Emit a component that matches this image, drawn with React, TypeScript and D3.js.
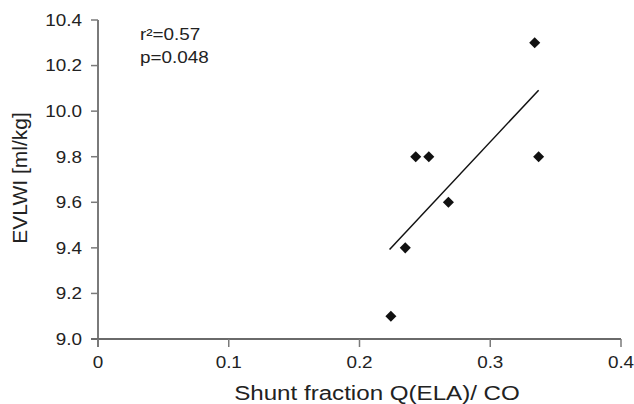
import React from "react";
import * as d3 from "d3";

const xValues = [0.334, 0.243, 0.253, 0.337, 0.268, 0.235, 0.224];
const yValues = [10.3, 9.8, 9.8, 9.8, 9.6, 9.4, 9.1];
const trendX = [0.223, 0.337];
const trendY = [9.393, 10.092];
const xTicks = [0, 0.1, 0.2, 0.3, 0.4];
const xTickLabels = ["0", "0.1", "0.2", "0.3", "0.4"];
const yTicks = [9.0, 9.2, 9.4, 9.6, 9.8, 10.0, 10.2, 10.4];
const yTickLabels = ["9.0", "9.2", "9.4", "9.6", "9.8", "10.0", "10.2", "10.4"];
const annotations = ["r²=0.57", "p=0.048"];
const xTitle = "Shunt fraction Q(ELA)/ CO";
const yTitle = "EVLWI [ml/kg]";

const W = 634;
const H = 404;
const FONT = "'Liberation Sans', Arial, Helvetica, sans-serif";

export default function App() {
  const x = d3.scaleLinear().domain([0, 0.4]).range([98, 621]);
  const y = d3.scaleLinear().domain([9.0, 10.4]).range([339, 20]);
  const line = d3
    .line<number>()
    .x((d) => x(d))
    .y((_, i) => y(trendY[i]));
  const diamond = d3.symbol().type(d3.symbolDiamond2).size(78)();
  const axisColor = "#7a7a7a";
  const tickFs = 16;
  const sx = 1.18;

  return (
    <svg
      width={W}
      height={H}
      style={{ position: "absolute", left: 0, top: 0, background: "#fff" }}
      fontFamily={FONT}
    >
      <rect width={W} height={H} fill="#fff" />
      {/* Y axis */}
      <line x1={x(0)} x2={x(0)} y1={y(10.4)} y2={y(9.0) + 8} stroke={axisColor} strokeWidth={2} />
      {yTicks.map((t, i) => (
        <g key={"yt" + i}>
          <line x1={x(0) - 7} x2={x(0)} y1={y(t)} y2={y(t)} stroke={axisColor} strokeWidth={1.5} />
          <text
            transform={`translate(82,${y(t) + 5.8}) scale(${sx},1)`}
            textAnchor="end"
            fontSize={tickFs}
            fill="#222"
          >
            {yTickLabels[i]}
          </text>
        </g>
      ))}
      {/* X axis */}
      <line x1={x(0) - 7} x2={x(0.4)} y1={y(9.0)} y2={y(9.0)} stroke="#6a6a6a" strokeWidth={2} />
      {xTicks.map((t, i) => (
        <g key={"xt" + i}>
          <line x1={x(t)} x2={x(t)} y1={y(9.0)} y2={y(9.0) + 8} stroke={axisColor} strokeWidth={1.5} />
          <text
            transform={`translate(${x(t)},368) scale(${sx},1)`}
            textAnchor="middle"
            fontSize={tickFs}
            fill="#222"
          >
            {xTickLabels[i]}
          </text>
        </g>
      ))}
      {/* titles */}
      <text
        transform={`translate(377,400) scale(1.15,1)`}
        textAnchor="middle"
        fontSize={21}
        fill="#222"
      >
        {xTitle}
      </text>
      <text
        transform={`translate(27,178) rotate(-90)`}
        textAnchor="middle"
        fontSize={21}
        fill="#222"
      >
        {yTitle}
      </text>
      {/* annotations */}
      {annotations.map((a, i) => (
        <text
          key={"an" + i}
          transform={`translate(140,${40 + i * 23}) scale(${sx},1)`}
          fontSize={tickFs}
          fill="#222"
        >
          {a}
        </text>
      ))}
      {/* trend line */}
      <path d={line(trendX) || ""} fill="none" stroke="#111" strokeWidth={1.5} />
      {/* points */}
      {xValues.map((v, i) => (
        <path
          key={"p" + i}
          d={diamond || ""}
          transform={`translate(${x(v)},${y(yValues[i])})`}
          fill="#111"
        />
      ))}
    </svg>
  );
}
